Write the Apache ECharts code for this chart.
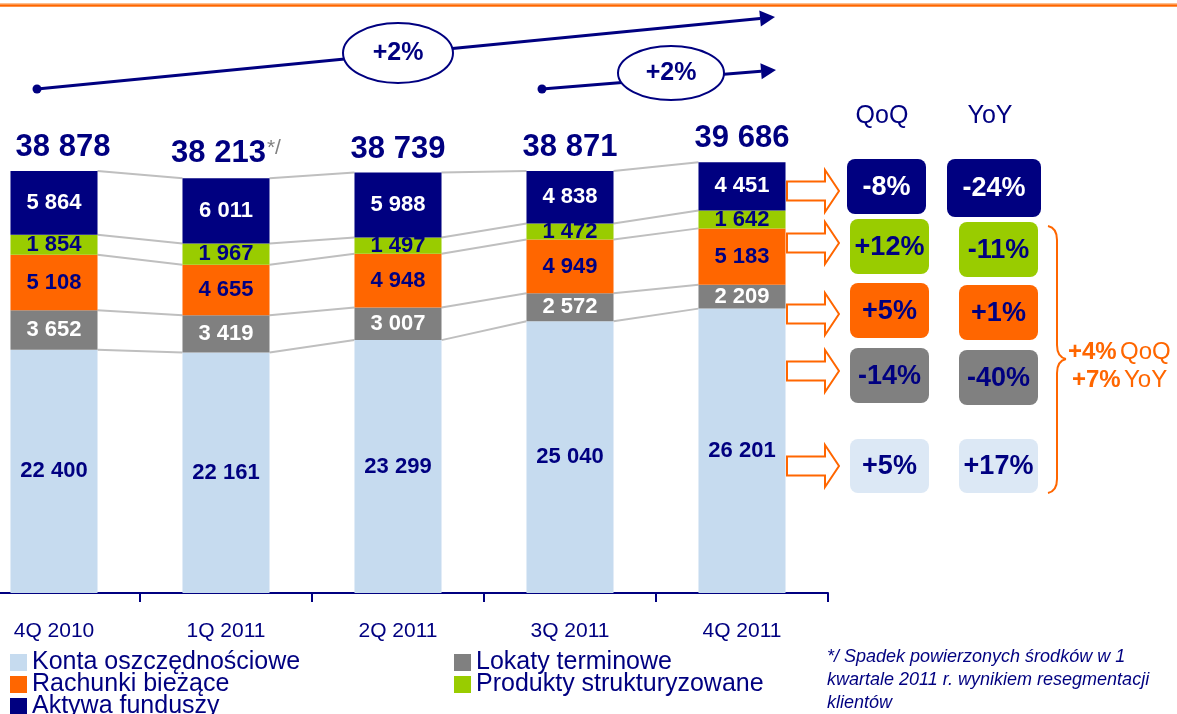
<!DOCTYPE html>
<html>
<head>
<meta charset="utf-8">
<script src="https://cdn.jsdelivr.net/npm/echarts@6/dist/echarts.min.js"></script>
<style>
html,body{margin:0;padding:0;background:#fff;}
#chart{width:1177px;height:714px;}
</style>
</head>
<body>
<div id="chart"></div>
<script>
// ---- data ----
var categories = ['4Q 2010', '1Q 2011', '2Q 2011', '3Q 2011', '4Q 2011'];
var kontaOszczednosciowe = [22400, 22161, 23299, 25040, 26201];
var lokatyTerminowe = [3652, 3419, 3007, 2572, 2209];
var rachunkiBiezace = [5108, 4655, 4948, 4949, 5183];
var produktyStrukturyzowane = [1854, 1967, 1497, 1472, 1642];
var aktywaFunduszy = [5864, 6011, 5988, 4838, 4451];
var seriesNames = ['Konta oszczędnościowe', 'Lokaty terminowe', 'Rachunki bieżące', 'Produkty strukturyzowane', 'Aktywa funduszy'];
// change boxes, top to bottom: Aktywa, Produkty, Rachunki, Lokaty, Konta
var qoqLabels = ['-8%', '+12%', '+5%', '-14%', '+5%'];
var yoyLabels = ['-24%', '-11%', '+1%', '-40%', '+17%'];
var growthLabels = ['+2%', '+2%'];
var footnoteMark = '*/';
var footnoteIndex = 1;

// ---- styling ----
var NAVY = '#000080', GREEN = '#99CC00', ORANGE = '#FF6600', GREY = '#808080', LIGHT = '#C6DBEF', LIGHTBOX = '#DCE8F5';
var FONT = "'Liberation Sans', Arial, sans-serif";
var BAR_RATIO = 0.506;

function fmt(v) { return String(v).replace(/\B(?=(\d{3})+(?!\d))/g, ' '); }

var stacks = [kontaOszczednosciowe, lokatyTerminowe, rachunkiBiezace, produktyStrukturyzowane, aktywaFunduszy];
var cum = [];
(function () {
  var run = categories.map(function () { return 0; });
  stacks.forEach(function (arr) {
    run = run.map(function (r, i) { return r + arr[i]; });
    cum.push(run.slice());
  });
})();
var totals = cum[cum.length - 1];

var colors = [LIGHT, GREY, ORANGE, GREEN, NAVY];
var labelColors = [NAVY, '#FFFFFF', NAVY, NAVY, '#FFFFFF'];

var barSeries = stacks.map(function (arr, k) {
  return {
    name: seriesNames[k],
    type: 'bar',
    stack: 'total',
    barWidth: (BAR_RATIO * 100) + '%',
    data: arr,
    itemStyle: { color: colors[k] },
    label: {
      show: true, position: 'inside',
      fontFamily: FONT, fontSize: 22, fontWeight: 'bold',
      color: labelColors[k],
      formatter: function (p) { return fmt(p.value); }
    },
    emphasis: { disabled: true },
    z: 3
  };
});

var connectorSeries = {
  type: 'custom',
  data: categories.slice(0, -1).map(function (c, i) { return [i, 0]; }),
  encode: { x: 0, y: 1 },
  silent: true,
  z: 2,
  renderItem: function (params, api) {
    var i = api.value(0);
    var bw = api.size([1, 0])[0];
    var half = bw * BAR_RATIO / 2;
    var children = cum.map(function (c) {
      var p1 = api.coord([i, c[i]]);
      var p2 = api.coord([i + 1, c[i + 1]]);
      return {
        type: 'line',
        shape: { x1: p1[0] + half, y1: p1[1], x2: p2[0] - half, y2: p2[1] },
        style: { stroke: '#BFBFBF', lineWidth: 2 }
      };
    });
    return { type: 'group', children: children };
  }
};

var totalSeries = {
  type: 'scatter',
  data: totals.map(function (v, i) {
    return i === 0 ? { value: v, label: { offset: [9, 0] } } : v;
  }),
  symbolSize: 0,
  silent: true,
  z: 5,
  itemStyle: { opacity: 1 },
  label: {
    show: true, position: 'top', distance: 8,
    formatter: function (p) {
      return '{t|' + fmt(p.value) + '}' + (p.dataIndex === footnoteIndex ? '{s|' + footnoteMark + '}' : '');
    },
    rich: {
      t: { fontFamily: FONT, fontSize: 31, fontWeight: 'bold', color: NAVY },
      s: { fontFamily: FONT, fontSize: 21, color: GREY, padding: [0, 0, 12, 1] }
    }
  }
};

// ---- annotations ----
var graphics = [];
// top orange rule
graphics.push({ type: 'rect', shape: { x: 0, y: 3, width: 1177, height: 4 }, style: { fill: '#FDBF90' }, silent: true });
graphics.push({ type: 'rect', shape: { x: 0, y: 4.5, width: 1177, height: 2 }, style: { fill: ORANGE }, silent: true });

// growth arrows
function growthArrow(x0, y0, x1, y1, ex, ey, rx, ry, txt) {
  var dx = x1 - x0, dy = y1 - y0, L = Math.sqrt(dx * dx + dy * dy);
  var ux = dx / L, uy = dy / L, px = -uy, py = ux;
  var bx = x1 - 15 * ux, by = y1 - 15 * uy;
  graphics.push({ type: 'polyline', shape: { points: [[x0, y0], [bx, by]] }, style: { stroke: NAVY, lineWidth: 3, fill: null }, z: 10, silent: true });
  graphics.push({ type: 'circle', shape: { cx: x0, cy: y0, r: 4.5 }, style: { fill: NAVY }, z: 10, silent: true });
  graphics.push({ type: 'polygon', shape: { points: [[x1, y1], [bx + 8 * px, by + 8 * py], [bx - 8 * px, by - 8 * py]] }, style: { fill: NAVY }, z: 10, silent: true });
  graphics.push({ type: 'ellipse', shape: { cx: ex, cy: ey, rx: rx, ry: ry }, style: { fill: '#fff', stroke: NAVY, lineWidth: 2 }, z: 11, silent: true });
  graphics.push({ type: 'text', x: ex, y: ey, style: { text: txt, fontFamily: FONT, fontSize: 25, fontWeight: 'bold', fill: NAVY, align: 'center', verticalAlign: 'middle' }, z: 12, silent: true });
}
growthArrow(37, 89, 775, 17, 398, 53, 55, 30, growthLabels[0]);
growthArrow(542, 89, 776, 70, 671, 73, 53, 27, growthLabels[1]);

// QoQ / YoY headers
graphics.push({ type: 'text', x: 882, y: 116, style: { text: 'QoQ', fontFamily: FONT, fontSize: 25, fill: NAVY, align: 'center', verticalAlign: 'middle' }, silent: true });
graphics.push({ type: 'text', x: 990, y: 116, style: { text: 'YoY', fontFamily: FONT, fontSize: 25, fill: NAVY, align: 'center', verticalAlign: 'middle' }, silent: true });

var boxColors = [NAVY, GREEN, ORANGE, GREY, LIGHTBOX];
var boxText = ['#FFFFFF', NAVY, NAVY, NAVY, NAVY];
var qBoxes = [[847, 159, 79, 55], [850, 219, 79, 55], [850, 283, 79, 55], [850, 348, 79, 55], [850, 439, 79, 54]];
var yBoxes = [[947, 159, 94, 58], [959, 222, 79, 55], [959, 285, 79, 55], [959, 350, 79, 55], [959, 439, 79, 54]];
var arrowY = [191, 243, 314, 371, 466];
function box(b, col, txt, tcol) {
  graphics.push({ type: 'rect', shape: { x: b[0], y: b[1], width: b[2], height: b[3], r: 8 }, style: { fill: col }, silent: true });
  graphics.push({ type: 'text', x: b[0] + b[2] / 2, y: b[1] + b[3] / 2 + 1, style: { text: txt, fontFamily: FONT, fontSize: 27, fontWeight: 'bold', fill: tcol, align: 'center', verticalAlign: 'middle' }, silent: true });
}
for (var r = 0; r < 5; r++) {
  box(qBoxes[r], boxColors[r], qoqLabels[r], boxText[r]);
  box(yBoxes[r], boxColors[r], yoyLabels[r], boxText[r]);
  var y = arrowY[r];
  graphics.push({ type: 'polygon', shape: { points: [[787, y - 9.5], [825, y - 9.5], [825, y - 21], [839, y], [825, y + 21], [825, y + 9.5], [787, y + 9.5]] }, style: { fill: '#fff', stroke: ORANGE, lineWidth: 2 }, silent: true });
}

// brace
var braceStyle = { fill: null, stroke: ORANGE, lineWidth: 2 };
graphics.push({ type: 'bezierCurve', shape: { x1: 1048, y1: 226, cpx1: 1057, cpy1: 228, x2: 1057, y2: 240 }, style: braceStyle, silent: true });
graphics.push({ type: 'line', shape: { x1: 1057, y1: 240, x2: 1057, y2: 345 }, style: braceStyle, silent: true });
graphics.push({ type: 'bezierCurve', shape: { x1: 1057, y1: 345, cpx1: 1057, cpy1: 357, x2: 1066, y2: 359 }, style: braceStyle, silent: true });
graphics.push({ type: 'bezierCurve', shape: { x1: 1066, y1: 359, cpx1: 1057, cpy1: 361, x2: 1057, y2: 373 }, style: braceStyle, silent: true });
graphics.push({ type: 'line', shape: { x1: 1057, y1: 373, x2: 1057, y2: 479 }, style: braceStyle, silent: true });
graphics.push({ type: 'bezierCurve', shape: { x1: 1057, y1: 479, cpx1: 1057, cpy1: 491, x2: 1048, y2: 493 }, style: braceStyle, silent: true });
var braceRich = { b: { fontFamily: FONT, fontSize: 24, fontWeight: 'bold', fill: ORANGE }, r: { fontFamily: FONT, fontSize: 24, fill: ORANGE } };
graphics.push({ type: 'text', x: 1068, y: 352, style: { text: '{b|+4%} {r|QoQ}', rich: braceRich, verticalAlign: 'middle' }, silent: true });
graphics.push({ type: 'text', x: 1072, y: 380, style: { text: '{b|+7%} {r|YoY}', rich: braceRich, verticalAlign: 'middle' }, silent: true });

// footnote
graphics.push({ type: 'text', x: 827, y: 645, style: { text: '*/ Spadek powierzonych środków w 1\nkwartale 2011 r. wynikiem resegmentacji\nklientów', fontFamily: FONT, fontSize: 18, fontStyle: 'italic', fill: NAVY, lineHeight: 23 }, silent: true });

var legendText = { fontFamily: FONT, fontSize: 25, color: NAVY, lineHeight: 22 };
function legendRow(name, left, top) {
  return { data: [name], orient: 'horizontal', left: left, top: top, itemWidth: 17, itemHeight: 17, icon: 'rect', textStyle: legendText, selectedMode: false, padding: 0 };
}

var option = {
  animation: false,
  backgroundColor: '#fff',
  grid: { left: -32, right: 349, top: 50.3, bottom: 121, containLabel: false, outerBoundsMode: 'none' },
  xAxis: {
    type: 'category',
    data: categories,
    axisLine: { lineStyle: { color: NAVY, width: 2 } },
    axisTick: { show: true, length: 9, lineStyle: { color: NAVY, width: 2 } },
    axisLabel: { fontFamily: FONT, fontSize: 21, color: NAVY, margin: 28 }
  },
  yAxis: { type: 'value', min: 0, max: 50000, show: false, splitLine: { show: false } },
  legend: [
    legendRow(seriesNames[0], 10, 650),
    legendRow(seriesNames[2], 10, 672),
    legendRow(seriesNames[4], 10, 694),
    legendRow(seriesNames[1], 454, 650),
    legendRow(seriesNames[3], 454, 672)
  ],
  series: barSeries.concat([connectorSeries, totalSeries]),
  graphic: graphics
};

var chart = echarts.init(document.getElementById('chart'), null, { renderer: 'canvas' });
chart.setOption(option);
</script>
</body>
</html>
